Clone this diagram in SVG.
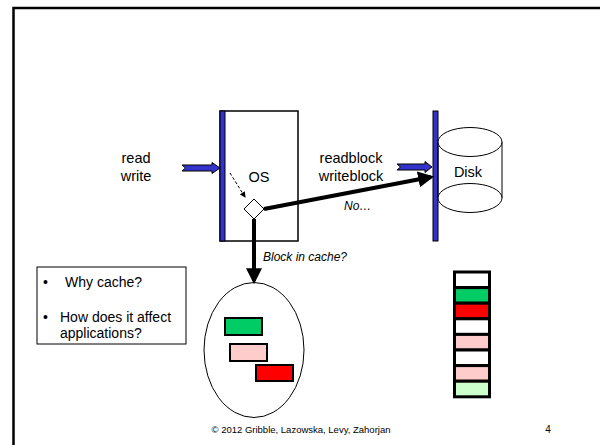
<svg xmlns="http://www.w3.org/2000/svg" width="600" height="445" viewBox="0 0 600 445">
<style>
text{font-family:"Liberation Sans",Arial,sans-serif;fill:#000}
.lbl{font-size:14.5px;text-anchor:middle}
.bt{font-size:14px}
.it{font-size:12px;font-style:italic}
.blue{fill:#3333CC;stroke:#000;stroke-width:1}
.cell{stroke:#000;stroke-width:3}
.blk{stroke:#000;stroke-width:2}
</style>
<defs>
<marker id="ah" markerWidth="4" markerHeight="4" refX="3.2" refY="2" orient="auto" markerUnits="strokeWidth"><path d="M0,0 L4,2 L0,4 Z" fill="#000"/></marker>
<marker id="ahs" markerWidth="6" markerHeight="6" refX="5" refY="3" orient="auto" markerUnits="userSpaceOnUse"><path d="M0,0 L6,3 L0,6 Z" fill="#000"/></marker>
</defs>
<rect width="600" height="445" fill="#fff"/>
<path d="M13.5,445 V8 H600" fill="none" stroke="#000" stroke-width="2.5"/>

<g id="os">
<rect x="220" y="111" width="78" height="130" fill="#fff" stroke="#000" stroke-width="1.5"/>
<rect x="220" y="111" width="5" height="130" fill="#3333CC" stroke="#000" stroke-width="1"/>
<text class="lbl" x="259" y="182">OS</text>
</g>
<g id="readwrite">
<text class="lbl" x="136" y="163">read</text>
<text class="lbl" x="136" y="181">write</text>
</g>
<g id="diamond">
<polygon points="254,199 264,209 254,219 244,209" fill="#fff" stroke="#000" stroke-width="1"/>
</g>
<g id="disk">
<rect x="433" y="111" width="5" height="130" fill="#3333CC" stroke="#000" stroke-width="1"/>
<path d="M438,142 V198 M502,142 V198" stroke="#000" stroke-width="1" fill="none"/>
<ellipse cx="470" cy="198" rx="32" ry="14.5" fill="#fff" stroke="#000" stroke-width="1"/>
<ellipse cx="470" cy="142" rx="32" ry="14.5" fill="#fff" stroke="#000" stroke-width="1"/>
<text class="lbl" x="468" y="177">Disk</text>
</g>
<g id="rwblock">
<text class="lbl" x="351" y="163">readblock</text>
<text class="lbl" x="351" y="181">writeblock</text>
</g>
<g id="textbox">
<rect x="37" y="267" width="149" height="77" fill="#fff" stroke="#000" stroke-width="1"/>
<text class="bt" x="43" y="287">•</text>
<text class="bt" x="65" y="287">Why cache?</text>
<text class="bt" x="43" y="322">•</text>
<text class="bt" x="60" y="322">How does it affect</text>
<text class="bt" x="60" y="338">applications?</text>
</g>
<g id="cache">
<ellipse cx="254" cy="350" rx="50" ry="67.5" fill="#fff" stroke="#000" stroke-width="1"/>
<rect class="blk" x="225" y="318" width="37" height="17" fill="#00CC66"/>
<rect class="blk" x="230" y="344" width="37" height="17" fill="#FFCCCC"/>
<rect class="blk" x="256" y="365" width="37" height="16" fill="#FF0000"/>
</g>
<g id="stack">
<rect class="cell" x="454.5" y="272" width="35" height="15.6" fill="#fff"/>
<rect class="cell" x="454.5" y="287.6" width="35" height="15.6" fill="#00CC66"/>
<rect class="cell" x="454.5" y="303.2" width="35" height="15.6" fill="#FF0000"/>
<rect class="cell" x="454.5" y="318.8" width="35" height="15.6" fill="#fff"/>
<rect class="cell" x="454.5" y="334.4" width="35" height="15.6" fill="#FFCCCC"/>
<rect class="cell" x="454.5" y="350" width="35" height="15.6" fill="#fff"/>
<rect class="cell" x="454.5" y="365.6" width="35" height="15.6" fill="#FFCCCC"/>
<rect class="cell" x="454.5" y="381.2" width="35" height="15.6" fill="#CCFFCC"/>
</g>
<g id="connectors">
<polygon class="blue" points="182,165 212,165 212,162.5 220,168 212,173.5 212,171 182,171 185.5,168"/>
<polygon class="blue" points="397,164 425,164 425,161.5 432,167 425,172.5 425,170 397,170 400.5,167"/>
<line x1="230" y1="173" x2="245" y2="197" stroke="#000" stroke-width="1" stroke-dasharray="3,2" marker-end="url(#ahs)"/>
<line x1="264" y1="209" x2="431" y2="177" stroke="#000" stroke-width="4" marker-end="url(#ah)"/>
<line x1="254" y1="219" x2="254" y2="281" stroke="#000" stroke-width="4" marker-end="url(#ah)"/>
<text class="it" x="263" y="261">Block in cache?</text>
<text class="it" x="344" y="210">No…</text>
</g>
<g id="footer">
<text x="301" y="433" style="font-size:9.5px;text-anchor:middle">© 2012 Gribble, Lazowska, Levy, Zahorjan</text>
<text x="548" y="433" style="font-size:10px;text-anchor:middle">4</text>
</g>
</svg>
